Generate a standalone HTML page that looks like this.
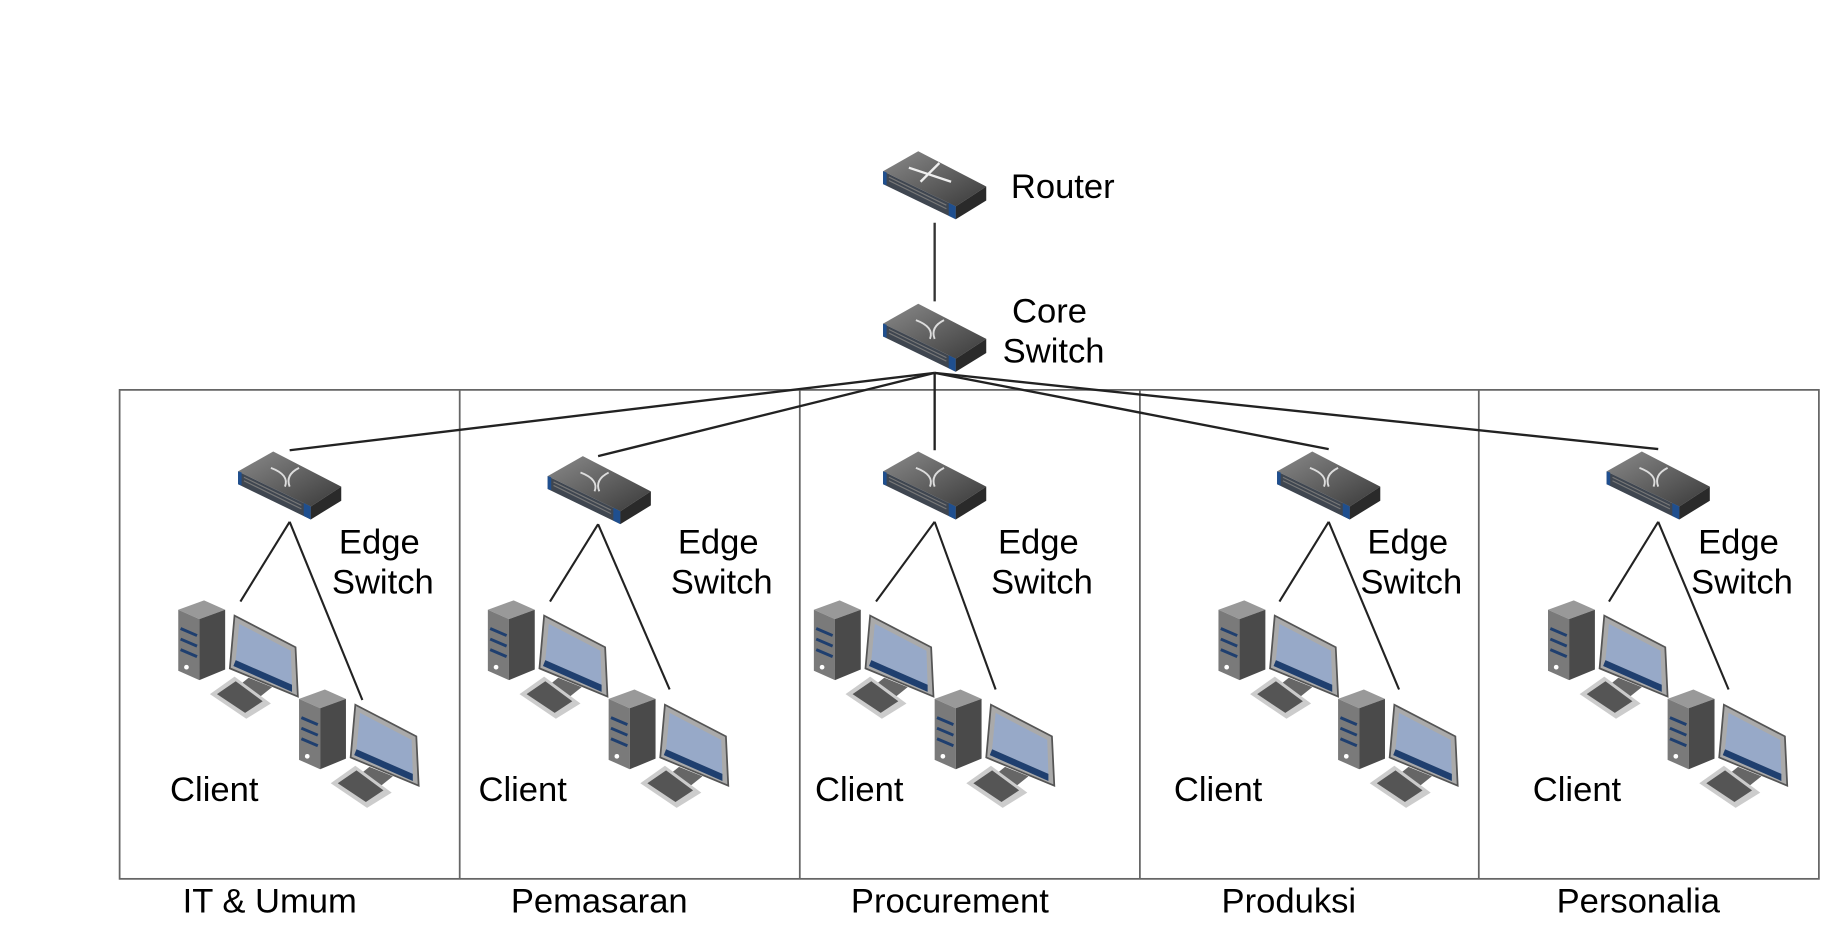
<!DOCTYPE html>
<html><head><meta charset="utf-8"><style>
html,body{margin:0;padding:0;background:#fff;}
svg{display:block}
text{font-family:"Liberation Sans",Arial,sans-serif;font-size:29.5px;fill:#000}
</style></head><body>
<svg width="1840" height="941" viewBox="0 0 1569 802.5" preserveAspectRatio="none" xmlns="http://www.w3.org/2000/svg">
<defs>
<linearGradient id="tg" x1="0" y1="0" x2="1" y2="1">
<stop offset="0" stop-color="#8a8a8a"/><stop offset="1" stop-color="#3a3a3a"/></linearGradient>
<g id="sw">
<polygon points="0,17 30,0 88,30 62,47" fill="url(#tg)"/>
<polygon points="0,17 62,47 62,58 0,28" fill="#3f4650"/>
<polygon points="0,17 3,18 3,29 0,28" fill="#1f4f8f"/>
<polygon points="56,44 62,47 62,58 56,55" fill="#1f4f8f"/>
<g stroke="#777" stroke-width="1"><line x1="5" y1="22" x2="54" y2="46"/><line x1="5" y1="25" x2="54" y2="49"/></g>
<polygon points="62,47 88,30 88,42 62,58" fill="#2a2a2a"/>
</g>
<g id="rt">
<use href="#sw"/>
<g stroke="#eee" stroke-width="2" fill="none"><line x1="22" y1="14" x2="58" y2="26"/><line x1="32" y1="26" x2="48" y2="10"/></g>
</g>
<g id="es">
<use href="#sw"/>
<g stroke="#ddd" stroke-width="1.6" fill="none"><path d="M28,14 Q44,20 40,30"/><path d="M52,14 Q40,20 44,30"/></g>
</g>
<g id="pc">
<polygon points="0,8 22,0 40,8 18,16" fill="#999"/>
<polygon points="0,8 18,16 18,68 0,60" fill="#7a7a7a"/>
<polygon points="18,16 40,8 40,59 18,68" fill="#4a4a4a"/>
<g stroke="#1f3f6f" stroke-width="2.5" fill="none"><path d="M2,24 L16,30"/><path d="M2,33 L16,39"/><path d="M2,42 L16,48"/></g>
<circle cx="7" cy="57" r="2" fill="#fff"/>
<polygon points="60,66 80,74 70,82 50,74" fill="#666"/>
<polygon points="48,13 100,40 102,82 44,58" fill="#aaa" stroke="#555" stroke-width="1.5"/>
<polygon points="52,20 96,43 97,72 49,51" fill="#97a9c8"/>
<polygon points="49,51 97,72 97,78 47,56" fill="#1f3f6f"/>
<polygon points="27,80 48,65 79,88 58,101" fill="#ccc"/>
<polygon points="33,80 49,69 72,86 57,96" fill="#555"/>
</g>
</defs>
<use href="#rt" x="753" y="129"/>
<text x="862" y="169">Router</text>
<line x1="797" y1="190" x2="797" y2="257" stroke="#333" stroke-width="2"/>
<use href="#es" x="753" y="259"/>
<text x="863" y="275">Core</text>
<text x="855" y="309">Switch</text>
<g fill="none" stroke="#666" stroke-width="1.5">
<rect x="102" y="332.5" width="1449" height="417"/>
<line x1="392" y1="332" x2="392" y2="749"/><line x1="682" y1="332" x2="682" y2="749"/>
<line x1="972" y1="332" x2="972" y2="749"/><line x1="1261" y1="332" x2="1261" y2="749"/>
</g>
<g stroke="#222" stroke-width="2">
<line x1="797" y1="318" x2="247" y2="384"/><line x1="797" y1="318" x2="510" y2="389"/>
<line x1="797" y1="318" x2="797" y2="384"/><line x1="797" y1="318" x2="1133" y2="383"/>
<line x1="797" y1="318" x2="1414" y2="383"/>
</g>
<g stroke="#222" stroke-width="1.8">
<line x1="247" y1="445" x2="205" y2="513"/><line x1="247" y1="445" x2="309" y2="597"/>
<line x1="510" y1="447" x2="469" y2="513"/><line x1="510" y1="447" x2="571" y2="588"/>
<line x1="797" y1="445" x2="747" y2="513"/><line x1="797" y1="445" x2="849" y2="588"/>
<line x1="1133" y1="445" x2="1091" y2="513"/><line x1="1133" y1="445" x2="1193" y2="588"/>
<line x1="1414" y1="445" x2="1372" y2="513"/><line x1="1414" y1="445" x2="1474" y2="588"/>
</g>
<use href="#es" x="203" y="385"/><use href="#es" x="467" y="389"/><use href="#es" x="753" y="385"/>
<use href="#es" x="1089" y="385"/><use href="#es" x="1370" y="385"/>
<text x="289" y="472">Edge</text><text x="283" y="506">Switch</text>
<text x="578" y="472">Edge</text><text x="572" y="506">Switch</text>
<text x="851" y="472">Edge</text><text x="845" y="506">Switch</text>
<text x="1166" y="472">Edge</text><text x="1160" y="506">Switch</text>
<text x="1448" y="472">Edge</text><text x="1442" y="506">Switch</text>
<use href="#pc" x="152" y="512"/><use href="#pc" x="255" y="588"/>
<use href="#pc" x="416" y="512"/><use href="#pc" x="519" y="588"/>
<use href="#pc" x="694" y="512"/><use href="#pc" x="797" y="588"/>
<use href="#pc" x="1039" y="512"/><use href="#pc" x="1141" y="588"/>
<use href="#pc" x="1320" y="512"/><use href="#pc" x="1422" y="588"/>
<text x="145" y="683">Client</text><text x="408" y="683">Client</text><text x="695" y="683">Client</text>
<text x="1001" y="683">Client</text><text x="1307" y="683">Client</text>
<g text-anchor="middle">
<text x="230" y="778">IT &amp; Umum</text><text x="511" y="778">Pemasaran</text>
<text x="810" y="778">Procurement</text><text x="1099" y="778">Produksi</text>
<text x="1397" y="778">Personalia</text>
</g>
</svg>
</body></html>
